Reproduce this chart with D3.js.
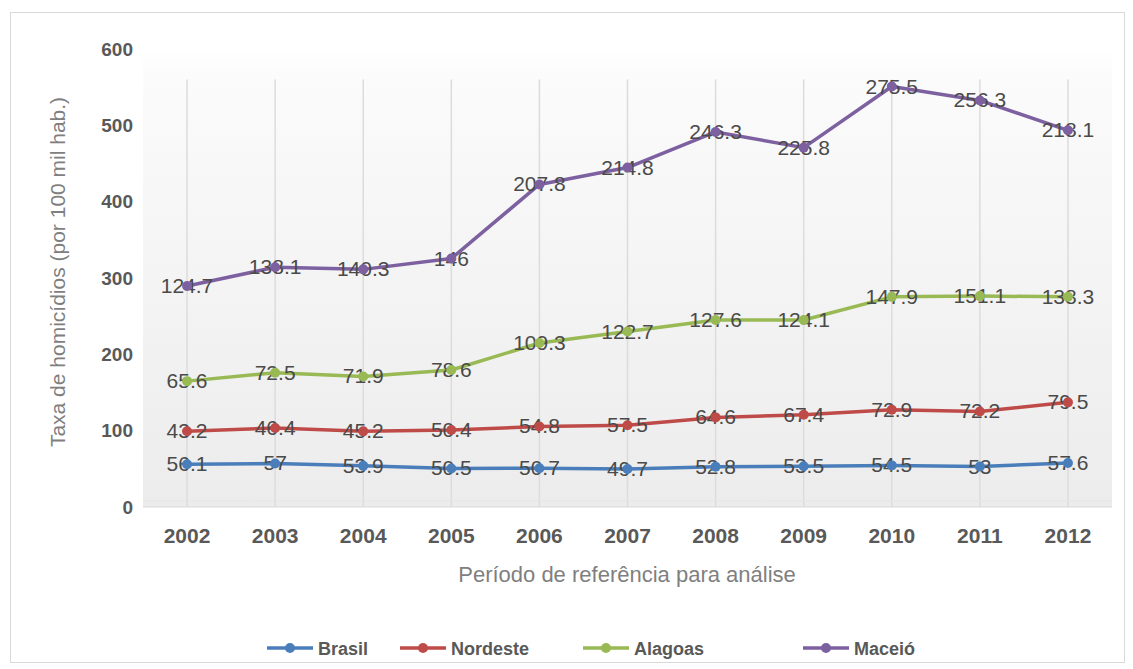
<!DOCTYPE html>
<html><head><meta charset="utf-8">
<script src="https://cdn.jsdelivr.net/npm/d3@7"></script>
<style>body{margin:0;background:#fff}svg{display:block;font-family:"Liberation Sans",Arial,sans-serif}</style>
</head><body><svg id="c" width="1133" height="669"></svg>
<script>
const years = ["2002","2003","2004","2005","2006","2007","2008","2009","2010","2011","2012"];
const seriesNames = ["Brasil","Nordeste","Alagoas","Maceió"];
const brasil   = [56.1, 57, 53.9, 50.5, 50.7, 49.7, 52.8, 53.5, 54.5, 53, 57.6];
const nordeste = [43.2, 46.4, 45.2, 50.4, 54.8, 57.5, 64.6, 67.4, 72.9, 72.2, 79.5];
const alagoas  = [65.6, 72.5, 71.9, 78.6, 109.3, 122.7, 127.6, 124.1, 147.9, 151.1, 138.3];
const maceio   = [124.7, 138.1, 140.3, 146, 207.8, 214.8, 246.3, 225.8, 275.5, 256.3, 218.1];
const yTicks = [0, 100, 200, 300, 400, 500, 600];
const colors = ["#4a7ebb", "#be4b48", "#98b954", "#7d60a0"];

const values = [brasil, nordeste, alagoas, maceio];
const rows = years.map((y, i) => {
  const r = {year: y};
  seriesNames.forEach((s, k) => r[s] = values[k][i]);
  return r;
});
const stacked = d3.stack().keys(seriesNames)(rows);

const svg = d3.select("#c");
const x = d3.scaleBand().domain(years).range([143, 1112]);
const y = d3.scaleLinear().domain([0, 600]).range([507, 49]);
const cx = d => x(d) + x.bandwidth() / 2;

svg.append("rect").attr("x", 10.5).attr("y", 12.5).attr("width", 1114).attr("height", 650)
  .attr("fill", "#fff").attr("stroke", "#d9d9d9");

const defs = svg.append("defs");
const g = defs.append("linearGradient").attr("id", "bg").attr("x1", 0).attr("y1", 0).attr("x2", 0).attr("y2", 1);
g.append("stop").attr("offset", "0").attr("stop-color", "#ffffff");
g.append("stop").attr("offset", "0.06").attr("stop-color", "#fbfbfb");
g.append("stop").attr("offset", "1").attr("stop-color", "#ececec");
svg.append("rect").attr("x", 143).attr("y", y(600)).attr("width", 969).attr("height", y(0) - y(600))
  .attr("fill", "url(#bg)");

svg.append("g").selectAll("line").data(years).join("line")
  .attr("x1", d => cx(d)).attr("x2", d => cx(d))
  .attr("y1", y(560)).attr("y2", y(0))
  .attr("stroke", "#dcdcdc").attr("stroke-width", 1.5);
svg.append("line").attr("x1", 143).attr("x2", 1112).attr("y1", y(0)).attr("y2", y(0))
  .attr("stroke", "#d9d9d9").attr("stroke-width", 1);
svg.append("line").attr("x1", 143).attr("x2", 1112).attr("y1", y(0) - 6).attr("y2", y(0) - 6)
  .attr("stroke", "#e6e6e6").attr("stroke-width", 1);

const yAxis = svg.append("g").attr("transform", "translate(143,0)")
  .call(d3.axisLeft(y).tickValues(yTicks).tickSize(0).tickPadding(10));
yAxis.select(".domain").remove();
yAxis.selectAll("text").attr("font-size", 19).attr("font-weight", "bold").attr("fill", "#595959")
  .attr("font-family", "Liberation Sans, Arial, sans-serif");

const xAxis = svg.append("g").attr("transform", `translate(0,${y(0)})`)
  .call(d3.axisBottom(x).tickSize(0).tickPadding(21));
xAxis.select(".domain").remove();
xAxis.selectAll("text").attr("font-size", 21).attr("font-weight", "bold").attr("fill", "#595959")
  .attr("font-family", "Liberation Sans, Arial, sans-serif");

svg.append("text").attr("x", 627).attr("y", 582).attr("text-anchor", "middle")
  .attr("font-size", 22).attr("fill", "#7f7f7f").text("Período de referência para análise");
svg.append("text").attr("transform", "translate(65,272) rotate(-90)").attr("text-anchor", "middle")
  .attr("font-size", 21).attr("fill", "#7f7f7f").text("Taxa de homicídios (por 100 mil hab.)");

const line = d3.line().x(d => cx(d.data.year)).y(d => y(d[1]));
const layers = svg.append("g").selectAll("g").data(stacked).join("g");
layers.append("path").attr("d", d => line(d)).attr("fill", "none")
  .attr("stroke", (d, i) => colors[i]).attr("stroke-width", 3.5).attr("stroke-linejoin", "round");

layers.each(function(layer, i) {
  d3.select(this).selectAll("text.lbl").data(layer).join("text").attr("class", "lbl")
    .attr("x", d => cx(d.data.year)).attr("y", d => y(d[1]) + 7)
    .attr("text-anchor", "middle").attr("font-size", 21).attr("fill", "#4a4a4a")
    .text(d => d.data[layer.key]);
});
layers.each(function(layer, i) {
  d3.select(this).selectAll("circle").data(layer).join("circle")
    .attr("cx", d => cx(d.data.year)).attr("cy", d => y(d[1])).attr("r", 5)
    .attr("fill", colors[i]);
});

const legendX = [267, 400, 583, 803];
const lg = svg.append("g").selectAll("g").data(seriesNames).join("g")
  .attr("transform", (d, i) => `translate(${legendX[i]},648)`);
lg.append("line").attr("x1", 0).attr("x2", 46).attr("stroke", (d, i) => colors[i]).attr("stroke-width", 3.5);
lg.append("circle").attr("cx", 23).attr("r", 5).attr("fill", (d, i) => colors[i]);
lg.append("text").attr("x", 51).attr("y", 7).attr("font-size", 18).attr("font-weight", "bold")
  .attr("fill", "#595959").text(d => d);
</script></body></html>
